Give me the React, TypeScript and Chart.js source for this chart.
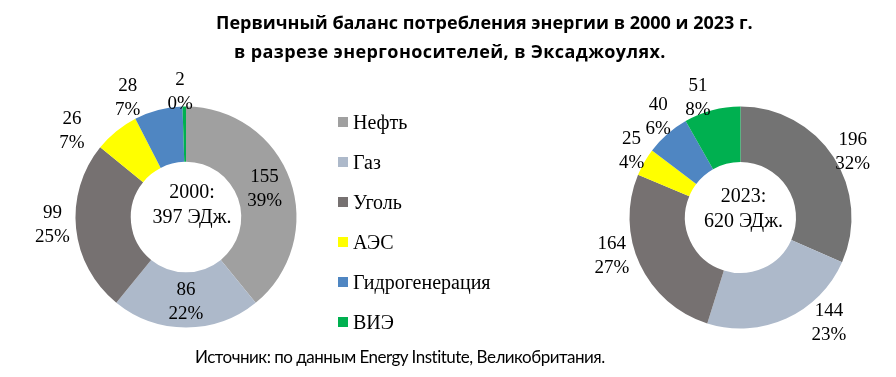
import React, { useEffect, useRef } from "react";
import { Chart, registerables } from "chart.js";

Chart.register(...registerables);

// ---- Data ----
const categories = ["Нефть", "Газ", "Уголь", "АЭС", "Гидрогенерация", "ВИЭ"];
const values2000 = [155, 86, 99, 26, 28, 2];
const pct2000 = [39, 22, 25, 7, 7, 0];
const values2023 = [196, 144, 164, 25, 40, 51];
const pct2023 = [32, 23, 27, 4, 6, 8];
const center2000 = ["2000:", "397 ЭДж."];
const center2023 = ["2023:", "620 ЭДж."];
const titleLines = [
  "Первичный баланс потребления энергии в 2000 и 2023 г.",
  "в разрезе энергоносителей, в Эксаджоулях.",
];
const sourceText = "Источник: по данным Energy Institute, Великобритания.";

// ---- Styles ----
const colors2000 = ["#a0a0a0", "#adb9ca", "#767171", "#ffff00", "#4f86c2", "#00b050"];
const colors2023 = ["#737373", "#adb9ca", "#767171", "#ffff00", "#4f86c2", "#00b050"];
const legendColors = colors2000;
// label placement: [radius factor of outer radius, angle offset in degrees]
const labelPos2000 = [[0.755, 0], [0.77, 0], [1.21, 2.6], [1.29, -14], [1.2, -11.5], [1.13, -1.8]];
const labelPos2023 = [[1.17, 2.9], [1.24, -15.6], [1.21, 8.3], [1.15, 1.5], [1.17, 1.9], [1.14, -4.8]];

const SERIF = "'Liberation Serif', 'DejaVu Serif', serif";

const sliceLabels = {
  id: "sliceLabels",
  afterDatasetsDraw(chart: any, _args: any, opts: any) {
    const ctx = chart.ctx;
    const meta = chart.getDatasetMeta(0);
    ctx.save();
    ctx.fillStyle = "#000";
    ctx.textAlign = "center";
    ctx.textBaseline = "middle";
    ctx.font = `19px ${SERIF}`;
    meta.data.forEach((arc: any, i: number) => {
      const p = arc.getProps(["x", "y", "startAngle", "endAngle", "outerRadius"], true);
      const [f, da] = opts.pos[i];
      const a = (p.startAngle + p.endAngle) / 2 + (da * Math.PI) / 180;
      const r = p.outerRadius * f;
      const cx = p.x + Math.cos(a) * r;
      const cy = p.y + Math.sin(a) * r;
      ctx.fillText(String(opts.values[i]), cx, cy - 12);
      ctx.fillText(opts.pcts[i] + "%", cx, cy + 12);
    });
    const c = meta.data[0];
    ctx.font = `20px ${SERIF}`;
    const n = opts.center.length;
    opts.center.forEach((line: string, k: number) => {
      ctx.fillText(line, c.x + opts.centerShift[0], c.y + opts.centerShift[1] + (k - (n - 1) / 2) * 25);
    });
    ctx.restore();
  },
};

type DonutProps = {
  values: number[];
  pcts: number[];
  colors: string[];
  pos: number[][];
  center: string[];
  centerShift: number[];
  box: { left: number; top: number; width: number; height: number };
  padding: { left: number; right: number; top: number; bottom: number };
};

function Donut(props: DonutProps) {
  const ref = useRef<HTMLCanvasElement | null>(null);
  useEffect(() => {
    if (!ref.current) return;
    const chart = new Chart(ref.current, {
      type: "doughnut",
      data: {
        labels: categories,
        datasets: [
          {
            data: props.values,
            backgroundColor: props.colors,
            borderWidth: 0,
          },
        ],
      },
      options: {
        animation: false,
        responsive: false,
        cutout: "50%",
        layout: { padding: props.padding },
        plugins: {
          legend: { display: false },
          tooltip: { enabled: false },
          sliceLabels: {
            values: props.values,
            pcts: props.pcts,
            pos: props.pos,
            center: props.center,
            centerShift: props.centerShift,
          },
        } as any,
      },
      plugins: [sliceLabels as any],
    });
    return () => chart.destroy();
  }, []);
  const b = props.box;
  return (
    <canvas
      ref={ref}
      width={b.width}
      height={b.height}
      style={{ position: "absolute", left: b.left, top: b.top, width: b.width, height: b.height }}
    />
  );
}

const titleStyle: React.CSSProperties = {
  position: "absolute",
  font: "bold 18px 'Open Sans', sans-serif",
  lineHeight: "24px",
  whiteSpace: "nowrap",
  color: "#000",
};

export default function App() {
  return (
    <div style={{ position: "absolute", left: 0, top: 0, width: 896, height: 377, background: "#fff", overflow: "hidden" }}>
      <Donut
        values={values2000}
        pcts={pct2000}
        colors={colors2000}
        pos={labelPos2000}
        center={center2000}
        centerShift={[6, -12]}
        box={{ left: 0, top: 0, width: 372, height: 377 }}
        padding={{ left: 75.5, right: 75.5, top: 106.5, bottom: 49.5 }}
      />
      <Donut
        values={values2023}
        pcts={pct2023}
        colors={colors2023}
        pos={labelPos2023}
        center={center2023}
        centerShift={[3, -8.5]}
        box={{ left: 560, top: 0, width: 336, height: 377 }}
        padding={{ left: 69.5, right: 44.5, top: 106.5, bottom: 48.5 }}
      />
      <div style={{ ...titleStyle, left: 216, top: 10 }}>{titleLines[0]}</div>
      <div style={{ ...titleStyle, left: 234, top: 39, letterSpacing: "0.4px" }}>{titleLines[1]}</div>
      {categories.map((c, i) => (
        <div
          key={c}
          style={{
            position: "absolute",
            left: 338,
            top: 110 + i * 40,
            height: 24,
            display: "flex",
            alignItems: "center",
            whiteSpace: "nowrap",
          }}
        >
          <span style={{ display: "inline-block", width: 10, height: 10, background: legendColors[i], marginRight: 5 }} />
          <span style={{ font: `20px ${SERIF}`, color: "#000", lineHeight: "24px" }}>{c}</span>
        </div>
      ))}
      <div
        style={{
          position: "absolute",
          left: 195,
          top: 345,
          font: "17px Lato, sans-serif",
          letterSpacing: "-0.5px",
          lineHeight: "24px",
          whiteSpace: "nowrap",
          color: "#000",
        }}
      >
        {sourceText}
      </div>
    </div>
  );
}
